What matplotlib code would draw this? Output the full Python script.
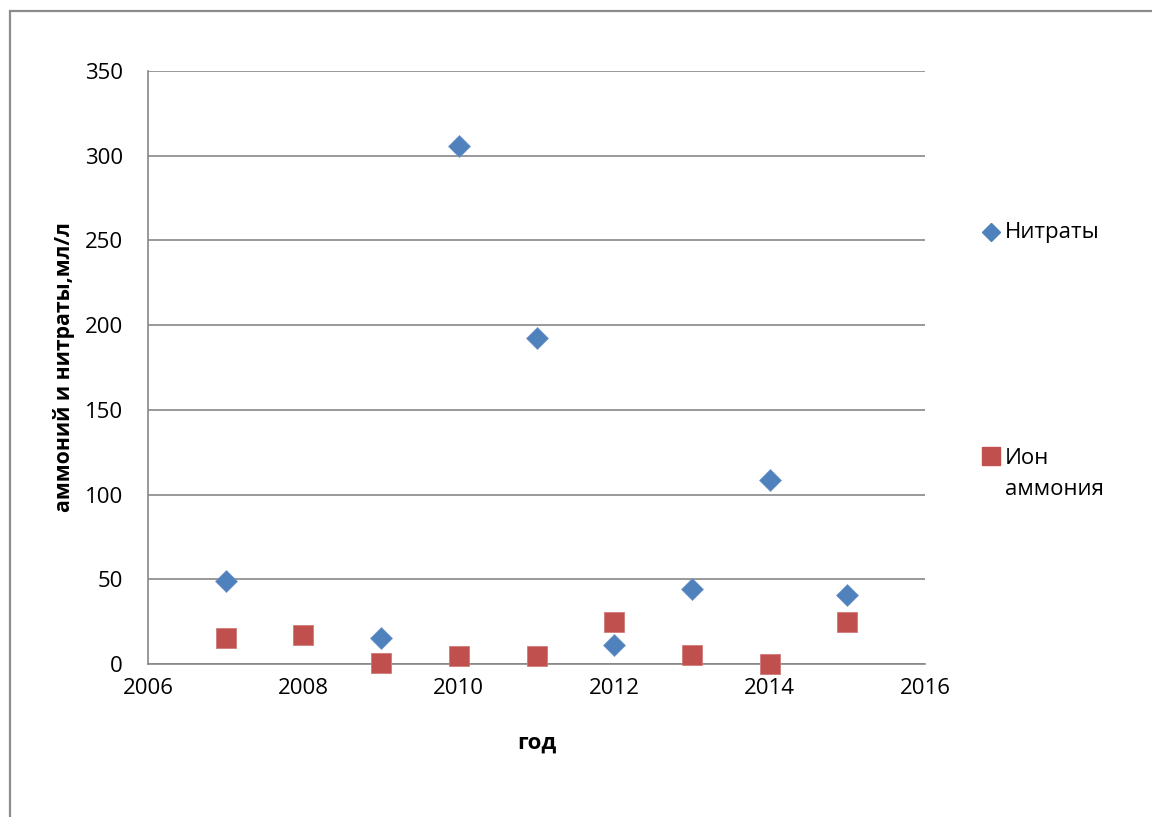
import matplotlib
matplotlib.use("Agg")
import matplotlib.pyplot as plt
from matplotlib.patches import Rectangle
from matplotlib.lines import Line2D

plt.rcParams['font.family'] = ['Open Sans', 'DejaVu Sans']

# Data
years = [2007, 2008, 2009, 2010, 2011, 2012, 2013, 2014, 2015]
nitrate_years = [2007, 2009, 2010, 2011, 2012, 2013, 2014, 2015]
nitrates = [49.0, 15.3, 306.0, 192.6, 11.0, 44.3, 108.6, 40.9]
ammonium = [15.3, 17.1, 0.4, 4.5, 4.9, 24.8, 5.3, 0.0, 25.0]

x_ticks = [2006, 2008, 2010, 2012, 2014, 2016]
y_ticks = [0, 50, 100, 150, 200, 250, 300, 350]

blue = '#4F81BD'
red = '#C0504D'
grid_gray = '#878787'

W, H = 1152, 817
fig = plt.figure(figsize=(W / 100, H / 100), dpi=100)

# chart area frame
fig.patches.append(Rectangle((10 / W, -0.1), 1.2, 1.1 - 11 / H,
                             transform=fig.transFigure, fill=False,
                             edgecolor='#8c8c8c', linewidth=1.6))

ax = fig.add_axes([148 / W, 1 - 664 / H, (925 - 148) / W, (664 - 71) / H])
ax.set_xlim(2006, 2016)
ax.set_ylim(0, 350)
ax.set_xticks(x_ticks)
ax.set_yticks(y_ticks)
ax.tick_params(axis='both', length=0, labelsize=16)
ax.tick_params(axis='x', pad=10)
ax.tick_params(axis='y', pad=18)
ax.yaxis.grid(True, color=grid_gray, linewidth=1.2)
ax.set_axisbelow(True)
for side in ('top', 'right'):
    ax.spines[side].set_visible(False)
for side in ('left', 'bottom'):
    ax.spines[side].set_color(grid_gray)
    ax.spines[side].set_linewidth(1.2)

ax.plot(nitrate_years, nitrates, linestyle='none', marker='D', markersize=11.5,
        color=blue, markeredgecolor='#6f98cc', markeredgewidth=0.5,
        clip_on=False, zorder=3)
ax.plot(years, ammonium, linestyle='none', marker='s', markersize=15,
        color=red, markeredgecolor='#d07a78', markeredgewidth=0.6,
        clip_on=False, zorder=3)

ax.set_xlabel('год', fontsize=16, fontweight='bold', labelpad=24)
ax.set_ylabel('аммоний и нитраты,мл/л', fontsize=15.3, fontweight='bold', labelpad=7)

# legend entries
fig.add_artist(Line2D([991 / W], [1 - 232 / H], marker='D', markersize=9.5,
                      color=blue, linestyle='none', transform=fig.transFigure))
fig.text(1005 / W, 1 - 232 / H, 'Нитраты', fontsize=16, va='center', ha='left')
fig.add_artist(Line2D([991 / W], [1 - 456 / H], marker='s', markersize=12.5,
                      color=red, linestyle='none', transform=fig.transFigure))
fig.text(1005 / W, 1 - 474 / H, 'Ион\nаммония', fontsize=16, va='center',
         ha='left', linespacing=1.6)

fig.savefig('out.png', dpi=100)
